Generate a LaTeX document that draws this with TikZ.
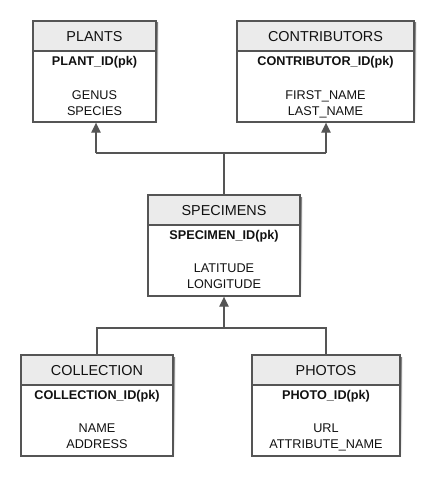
\documentclass[tikz,border=0pt]{standalone}
\usepackage{fontspec}
\setmainfont{Liberation Sans}
\usetikzlibrary{fit,arrows.meta,calc}
\definecolor{edge}{HTML}{555555}
\definecolor{hdrfill}{HTML}{EBEBEB}
\definecolor{shade}{HTML}{D9D9D9}
\definecolor{txt}{HTML}{111111}
\tikzset{
  entbox/.style={draw=edge, line width=1pt, fill=white, inner sep=0pt},
  hdrbox/.style={draw=edge, line width=1pt, fill=hdrfill, inner sep=0pt},
  hdrtxt/.style={font=\fontsize{10.8}{12}\selectfont, text=txt, inner sep=0pt},
  idtxt/.style={font=\fontsize{9.5}{11}\selectfont\bfseries, text=txt, inner sep=0pt},
  attrtxt/.style={font=\fontsize{9.5}{12}\selectfont, text=txt, inner sep=0pt, align=center},
  conn/.style={draw=edge, line width=1pt},
  arr/.style={conn, -{Triangle[length=7.5pt,width=7pt]}},
}
\newcommand\entitybox[8]{%
  % #1 name, #2 x1, #3 y1, #4 x2, #5 y2, #6 title, #7 id, #8 attrs
  \fill[shade] (#2+2,#3+2) rectangle (#4+2,#5+2);
  \node[entbox, fit={(#2,#3) (#4,#5)}] (#1) {};
  \node[hdrbox, fit={(#2,#3) (#4,#3+30)}] (#1H) {};
  \node[hdrtxt] (#1T) at ({(#2+#4)/2},#3+16) {#6};
  \node[idtxt] (#1I) at ({(#2+#4)/2},#3+41) {#7};
  \node[attrtxt, anchor=north] (#1A) at ({(#2+#4)/2},#3+69) {#8};
}
\begin{document}
\begin{tikzpicture}[x=0.75pt,y=-0.75pt]
\useasboundingbox (0,0) rectangle (437,478);
\fill[white] (0,0) rectangle (437,478);
\entitybox{plants}{33}{21}{156}{122}{PLANTS}{PLANT\_ID(pk)}{GENUS\\SPECIES}
\entitybox{contrib}{237}{21}{414}{122}{CONTRIBUTORS}{CONTRIBUTOR\_ID(pk)}{FIRST\_NAME\\LAST\_NAME}
\entitybox{spec}{148}{195}{300}{296}{SPECIMENS}{SPECIMEN\_ID(pk)}{LATITUDE\\LONGITUDE}
\entitybox{coll}{21}{355}{173}{456}{COLLECTION}{COLLECTION\_ID(pk)}{NAME\\ADDRESS}
\entitybox{photos}{252}{355}{400}{456}{PHOTOS}{PHOTO\_ID(pk)}{URL\\ATTRIBUTE\_NAME}
% upper connectors
\coordinate (j1) at (224,153);
\coordinate (pl) at (96,153);
\coordinate (cr) at (326,153);
\draw[conn] (spec.north) -- (j1);
\draw[conn] (pl) -- (cr);
\draw[arr] (pl) -- (pl |- plants.south);
\draw[arr] (cr) -- (cr |- contrib.south);
% lower connectors
\coordinate (j2) at (224,328);
\draw[conn] (coll.north) -- (coll.north |- j2) -- (photos.north |- j2) -- (photos.north);
\draw[arr] (j2) -- (spec.south);
\end{tikzpicture}
\end{document}
